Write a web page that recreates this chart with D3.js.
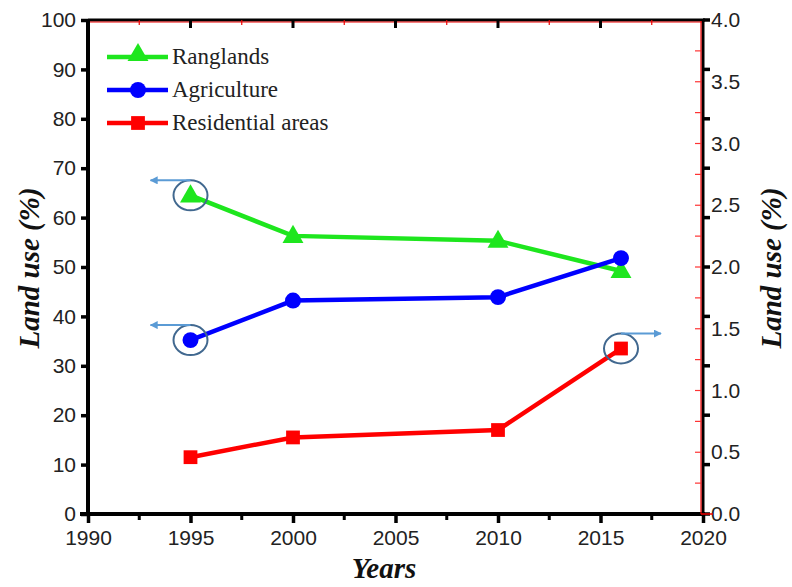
<!DOCTYPE html>
<html><head><meta charset="utf-8">
<script src="https://cdn.jsdelivr.net/npm/d3@7"></script>
<style>body{margin:0;background:#fff}svg{display:block}</style>
</head><body><svg id="c" width="792" height="587"></svg>
<script>
const years = [1995, 2000, 2010, 2016];
const ranglands = [64.5, 56.3, 55.3, 49.2];
const agriculture = [35.2, 43.2, 43.9, 51.8];
const residential = [0.46, 0.62, 0.68, 1.34];
const xTicks = [1990, 1995, 2000, 2005, 2010, 2015, 2020];
const yLeftTicks = [0,10,20,30,40,50,60,70,80,90,100];
const yRightTicks = [0.0,0.5,1.0,1.5,2.0,2.5,3.0,3.5,4.0];
const legendLabels = ["Ranglands", "Agriculture", "Residential areas"];

const svg = d3.select("#c");
const L = 88, R = 703, T = 20, B = 514;
const x = d3.scaleLinear().domain([1990, 2020]).range([L, R]);
const yL = d3.scaleLinear().domain([0, 100]).range([B, T]);
const yR = d3.scaleLinear().domain([0, 4]).range([B, T]);
const tickFont = "Liberation Sans, Arial, sans-serif";
const serif = "Liberation Serif, Times New Roman, serif";

// Top frame line + red inner line
svg.append("line").attr("x1", L).attr("x2", R + 2).attr("y1", T).attr("y2", T).attr("stroke", "#000").attr("stroke-width", 3);
svg.append("line").attr("x1", L + 1).attr("x2", R).attr("y1", T + 2).attr("y2", T + 2).attr("stroke", "#e00").attr("stroke-width", 1.2);
svg.append("g").selectAll("line").data(xTicks.slice(1, -1)).join("line")
  .attr("x1", d => x(d)).attr("x2", d => x(d)).attr("y1", T).attr("y2", T + 8)
  .attr("stroke", "#000").attr("stroke-width", 3);
svg.append("g").selectAll("line").data(d3.range(1992.5, 2020, 5)).join("line")
  .attr("x1", d => x(d)).attr("x2", d => x(d)).attr("y1", T).attr("y2", T + 5)
  .attr("stroke", "#e00").attr("stroke-width", 1.2);

// Left axis
const gL = svg.append("g").attr("transform", `translate(${L},0)`)
  .call(d3.axisLeft(yL).tickValues(yLeftTicks).tickSize(7).tickPadding(5).tickFormat(d3.format("d")));
gL.select(".domain").attr("stroke-width", 4).attr("d", `M0,${B + 2}V${T - 1}`);
gL.selectAll(".tick line").attr("stroke-width", 3.5);
gL.selectAll(".tick text").attr("font-family", tickFont).attr("font-size", 21).attr("fill", "#222");

// Bottom axis
const gB = svg.append("g").attr("transform", `translate(0,${B})`)
  .call(d3.axisBottom(x).tickValues(xTicks).tickSize(9).tickPadding(7).tickFormat(d3.format("d")));
gB.select(".domain").attr("stroke-width", 4).attr("d", `M${L - 8},0H${R + 2}`);
gB.selectAll(".tick line").attr("stroke-width", 3.5);
gB.selectAll(".tick text").attr("font-family", tickFont).attr("font-size", 21).attr("fill", "#222");
svg.append("g").selectAll("line").data(d3.range(1992.5, 2020, 5)).join("line")
  .attr("x1", d => x(d)).attr("x2", d => x(d)).attr("y1", B).attr("y2", B + 6)
  .attr("stroke", "#000").attr("stroke-width", 3);

// Right axis
const gR = svg.append("g").attr("transform", `translate(${R},0)`)
  .call(d3.axisRight(yR).tickValues(yRightTicks).tickSize(0).tickPadding(8).tickFormat(d3.format(".1f")));
gR.select(".domain").attr("stroke-width", 3).attr("d", `M0,${B + 1}V${T - 1}`);
gR.selectAll(".tick text").attr("font-family", tickFont).attr("font-size", 21).attr("fill", "#222");
svg.append("g").selectAll("line").data(yLeftTicks).join("line")
  .attr("x1", R).attr("x2", R + 7).attr("y1", d => yL(d)).attr("y2", d => yL(d))
  .attr("stroke", "#000").attr("stroke-width", 3.5);
svg.append("line").attr("x1", R - 2).attr("x2", R - 2).attr("y1", T + 1).attr("y2", B).attr("stroke", "#e00").attr("stroke-width", 1.2);
svg.append("line").attr("x1", R - 2).attr("x2", R + 10).attr("y1", B).attr("y2", B).attr("stroke", "#e00").attr("stroke-width", 1.5);
svg.append("g").selectAll("line").data(d3.range(0.25, 4, 0.25)).join("line")
  .attr("x1", R - 2).attr("x2", R - 8).attr("y1", d => yR(d)).attr("y2", d => yR(d))
  .attr("stroke", "#f33").attr("stroke-width", 1.2);

// axis titles
const titleStyle = sel => sel.attr("font-family", serif).attr("font-weight", "bold").attr("font-style", "italic").attr("font-size", 29).attr("fill", "#111");
svg.append("text").attr("transform", "translate(39,268) rotate(-90)").attr("text-anchor", "middle").call(titleStyle).text("Land use (%)");
svg.append("text").attr("transform", "translate(781,268) rotate(-90)").attr("text-anchor", "middle").call(titleStyle).text("Land use (%)");
svg.append("text").attr("x", 384).attr("y", 578).attr("text-anchor", "middle").call(titleStyle).text("Years");

// series
const green = "#1ee61e", blue = "#0000ff", red = "#ff0000";
function drawSeries(vals, yScale, color) {
  const line = d3.line().x((d, i) => x(years[i])).y(d => yScale(d));
  svg.append("path").datum(vals).attr("d", line).attr("fill", "none").attr("stroke", color).attr("stroke-width", 4.5);
}
drawSeries(ranglands, yL, green);
drawSeries(agriculture, yL, blue);
drawSeries(residential, yR, red);
const tri = d3.symbol().type(d3.symbolTriangle).size(190);
const circ = d3.symbol().type(d3.symbolCircle).size(200);
const sq = d3.symbol().type(d3.symbolSquare).size(190);
svg.append("g").selectAll("path").data(ranglands).join("path").attr("d", tri)
  .attr("transform", (d, i) => `translate(${x(years[i])},${yL(d) + 1})`).attr("fill", green);
svg.append("g").selectAll("path").data(agriculture).join("path").attr("d", circ)
  .attr("transform", (d, i) => `translate(${x(years[i])},${yL(d)})`).attr("fill", blue);
svg.append("g").selectAll("path").data(residential).join("path").attr("d", sq)
  .attr("transform", (d, i) => `translate(${x(years[i])},${yR(d)})`).attr("fill", red);

// legend
const legColors = [green, blue, red];
const legSyms = [tri, circ, sq];
const lg = svg.append("g");
legendLabels.forEach((lab, i) => {
  const yy = 57 + i * 33;
  lg.append("line").attr("x1", 107).attr("x2", 168).attr("y1", yy).attr("y2", yy).attr("stroke", legColors[i]).attr("stroke-width", 4.5);
  lg.append("path").attr("d", legSyms[i]).attr("transform", `translate(138,${yy + (i === 0 ? -2 : 0)})`).attr("fill", legColors[i]);
  lg.append("text").attr("x", 172).attr("y", yy + 7).attr("font-family", serif).attr("font-size", 23).attr("fill", "#222").text(lab);
});

// annotation ellipses and arrows
const annColor = "#41688f", arrowColor = "#5b9bd5";
svg.append("defs").append("marker").attr("id", "ah").attr("viewBox", "0 0 10 10").attr("refX", 9).attr("refY", 5)
  .attr("markerWidth", 4).attr("markerHeight", 4).attr("orient", "auto-start-reverse")
  .append("path").attr("d", "M0,0L10,5L0,10Z").attr("fill", arrowColor);
const ann = [
  {cx: x(years[0]), cy: yL(ranglands[0]), dir: -1},
  {cx: x(years[0]), cy: yL(agriculture[0]), dir: -1},
  {cx: x(years[3]), cy: yR(residential[3]), dir: 1}
];
ann.forEach(a => {
  svg.append("ellipse").attr("cx", a.cx).attr("cy", a.cy).attr("rx", 17).attr("ry", 15)
    .attr("fill", "none").attr("stroke", annColor).attr("stroke-width", 2);
  svg.append("line").attr("x1", a.cx).attr("y1", a.cy - 15).attr("x2", a.cx + a.dir * 40).attr("y2", a.cy - 15)
    .attr("stroke", arrowColor).attr("stroke-width", 2).attr("marker-end", "url(#ah)");
});
</script></body></html>
